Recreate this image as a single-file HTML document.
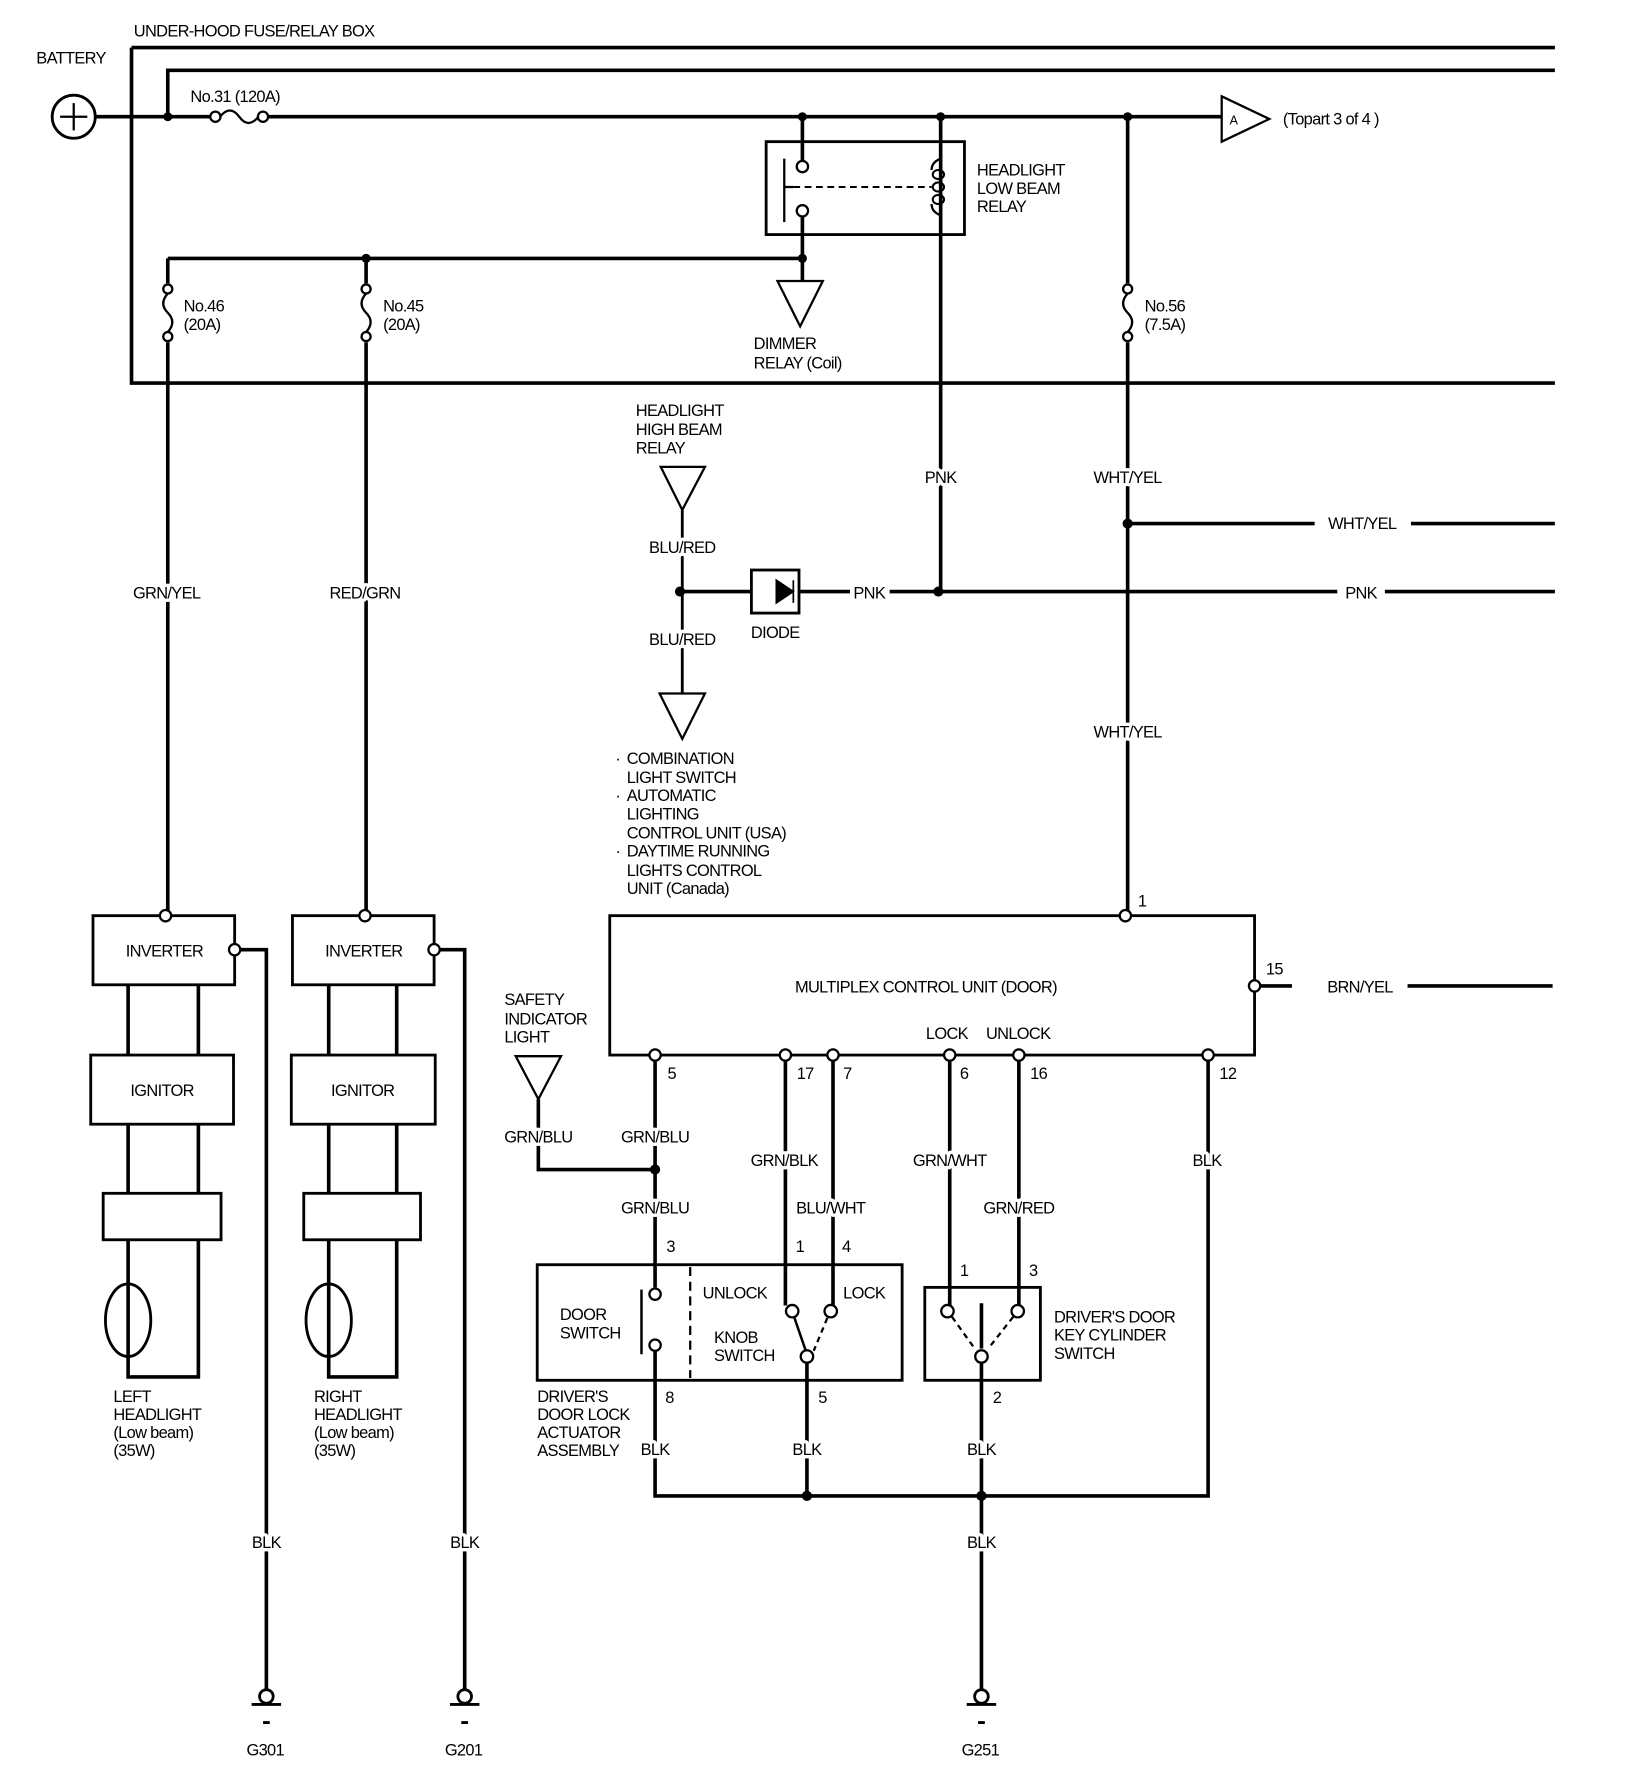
<!DOCTYPE html>
<html><head><meta charset="utf-8"><style>
html,body{margin:0;padding:0;background:#fff;}
svg{display:block;}
text{font-family:"Liberation Sans",sans-serif;font-size:14.5px;fill:#000;letter-spacing:-0.6px;}
.c{text-anchor:middle;}
.w{paint-order:stroke;stroke:#fff;stroke-width:6px;stroke-linejoin:round;}
</style></head><body>
<svg width="1632" height="1786" viewBox="0 0 1440 1576" xmlns="http://www.w3.org/2000/svg">
<g stroke="#000" fill="none" stroke-width="3.2">
<path d="M116 42H1372M116 42V338H1372"/>
<path d="M148 103V62H1372"/>
<circle cx="65" cy="103" r="19" stroke-width="2.5"/>
<path d="M53 103H77M65 91V115" stroke-width="2"/>
<path d="M84 103H186M236 103H1078"/>
<circle cx="190" cy="103" r="4.5" stroke-width="2"/><circle cx="232" cy="103" r="4.5" stroke-width="2"/>
<path d="M194 103Q203 92 211 103T228 103" stroke-width="2"/>
<polygon points="1078,85 1078,125 1120,105" stroke-width="2"/>
<rect x="676" y="125" width="175" height="82" stroke-width="2.5"/>
<path d="M708 103V142M708 191V248"/>
<circle cx="708" cy="147" r="5" stroke-width="2"/><circle cx="708" cy="186" r="5" stroke-width="2"/>
<path d="M692 140V196M692 165H700" stroke-width="2"/>
<path d="M700 165H822" stroke-width="1.8" stroke-dasharray="6,4"/>
<path d="M830 103V522"/>
<path d="M830 140Q822 143 822 150M830 190Q822 187 822 180" stroke-width="2"/>
<ellipse cx="828" cy="154" rx="5" ry="4" stroke-width="1.8"/><ellipse cx="828" cy="165" rx="5" ry="4" stroke-width="1.8"/><ellipse cx="828" cy="176" rx="5" ry="4" stroke-width="1.8"/>
<path d="M148 228H708M148 228V250M148 302V808M323 228V250M323 302V808"/>
<circle cx="148" cy="255" r="4" stroke-width="2"/><circle cx="148" cy="297" r="4" stroke-width="2"/>
<path d="M148 259Q140 268 148 276T148 293" stroke-width="2"/>
<circle cx="323" cy="255" r="4" stroke-width="2"/><circle cx="323" cy="297" r="4" stroke-width="2"/>
<path d="M323 259Q315 268 323 276T323 293" stroke-width="2"/>
<path d="M995 103V250M995 302V803"/>
<circle cx="995" cy="255" r="4" stroke-width="2"/><circle cx="995" cy="297" r="4" stroke-width="2"/>
<path d="M995 259Q987 268 995 276T995 293" stroke-width="2"/>
<polygon points="686,248 726,248 706,288" stroke-width="2"/>
<path d="M995 462H1160M1245 462H1372"/>
<path d="M600 522H663M705 522H750M785 522H1180M1222 522H1372"/>
<rect x="663" y="503" width="42" height="38" stroke-width="2.5"/>
<path d="M700 512V532M700 522L685 512V532Z" fill="#000" stroke-width="1.5"/>
<polygon points="583,412 622,412 602,450" stroke-width="2"/>
<path d="M602 450V612" stroke-width="2.5"/>
<polygon points="582,612 622,612 602,652" stroke-width="2"/>
<rect x="82" y="808" width="125" height="61" stroke-width="2.5"/>
<rect x="80" y="931" width="126" height="61" stroke-width="2.5"/>
<rect x="91" y="1053" width="104" height="41" stroke-width="2.5"/>
<path d="M113 869V931M175 869V931M113 992V1053M175 992V1053M113 1094V1197M175 1094V1215H113V1197"/>
<ellipse cx="113" cy="1165" rx="20" ry="32" stroke-width="2.5"/>
<path d="M212 838H235V1491"/>
<rect x="258" y="808" width="125" height="61" stroke-width="2.5"/>
<rect x="257" y="931" width="127" height="61" stroke-width="2.5"/>
<rect x="268" y="1053" width="103" height="41" stroke-width="2.5"/>
<path d="M290 869V931M350 869V931M290 992V1053M350 992V1053M290 1094V1197M350 1094V1215H290V1197"/>
<ellipse cx="290" cy="1165" rx="20" ry="32" stroke-width="2.5"/>
<path d="M388 838H410V1491"/>
<g stroke-width="2.5">
<circle cx="235" cy="1497" r="6"/><path d="M222 1504H248M232 1520H238"/>
<circle cx="410" cy="1497" r="6"/><path d="M397 1504H423M407 1520H413"/>
<circle cx="866" cy="1497" r="6"/><path d="M853 1504H879M863 1520H869"/>
</g>
<rect x="538" y="808" width="569" height="123" stroke-width="2.5"/>
<path d="M1112 870H1140M1242 870H1370"/>
<polygon points="455,932 495,932 475,970" stroke-width="2"/>
<path d="M475 970V1032H578"/>
<path d="M578 936V1136M578 1192V1320H1066V936"/>
<path d="M693 936V1152M735 936V1152M838 936V1152M899 936V1152"/>
<path d="M712 1202V1320M866 1202V1491"/>
<rect x="474" y="1116" width="322" height="102" stroke-width="2.5"/>
<path d="M609 1118V1216" stroke-width="2" stroke-dasharray="8,5"/>
<path d="M566 1138V1195" stroke-width="2.2"/>
<path d="M701 1163L711 1192" stroke-width="2.2"/>
<path d="M730 1163L718 1192" stroke-width="2" stroke-dasharray="5,4"/>
<rect x="816" y="1136" width="102" height="82" stroke-width="2.5"/>
<path d="M866 1150V1190"/>
<path d="M840 1162L860 1190M894 1162L872 1190" stroke-width="2" stroke-dasharray="5,4"/>
</g>
<g fill="#fff" stroke="#000" stroke-width="2">
<circle cx="146" cy="808" r="5"/><circle cx="322" cy="808" r="5"/>
<circle cx="207" cy="838" r="5"/><circle cx="383" cy="838" r="5"/>
<circle cx="993" cy="808" r="5"/><circle cx="1107" cy="870" r="5"/>
<circle cx="578" cy="931" r="5"/><circle cx="693" cy="931" r="5"/><circle cx="735" cy="931" r="5"/>
<circle cx="838" cy="931" r="5"/><circle cx="899" cy="931" r="5"/><circle cx="1066" cy="931" r="5"/>
<circle cx="578" cy="1142" r="5"/><circle cx="578" cy="1187" r="5"/>
<circle cx="699" cy="1157" r="5.5"/><circle cx="733" cy="1157" r="5.5"/><circle cx="712" cy="1197" r="5.5"/>
<circle cx="836" cy="1157" r="5.5"/><circle cx="898" cy="1157" r="5.5"/><circle cx="866" cy="1197" r="5.5"/>
</g>
<g fill="#000">
<circle cx="148" cy="103" r="4"/><circle cx="708" cy="103" r="4"/><circle cx="830" cy="103" r="4"/><circle cx="995" cy="103" r="4"/>
<circle cx="323" cy="228" r="4"/><circle cx="708" cy="228" r="4"/>
<circle cx="995" cy="462" r="4.5"/><circle cx="600" cy="522" r="4.5"/><circle cx="828" cy="522" r="4.5"/>
<circle cx="578" cy="1032" r="4.5"/><circle cx="712" cy="1320" r="4.5"/><circle cx="866" cy="1320" r="4.5"/>
</g>
<text x="118" y="32">UNDER-HOOD FUSE/RELAY BOX</text>
<text x="32" y="56">BATTERY</text>
<text x="168" y="90">No.31 (120A)</text>
<text x="1085" y="110" style="font-size:11px">A</text>
<text x="1132" y="110">(Topart 3 of 4  )</text>
<text x="862" y="155">HEADLIGHT</text><text x="862" y="171">LOW BEAM</text><text x="862" y="187">RELAY</text>
<text x="162" y="275">No.46</text><text x="162" y="291">(20A)</text>
<text x="338" y="275">No.45</text><text x="338" y="291">(20A)</text>
<text x="1010" y="275">No.56</text><text x="1010" y="291">(7.5A)</text>
<text x="665" y="308">DIMMER</text><text x="665" y="325">RELAY (Coil)</text>
<text x="561" y="367">HEADLIGHT</text><text x="561" y="384">HIGH BEAM</text><text x="561" y="400">RELAY</text>
<text class="c w" x="830" y="426">PNK</text><text class="c w" x="995" y="426">WHT/YEL</text>
<text class="c" x="1202" y="467">WHT/YEL</text>
<text class="c w" x="602" y="488">BLU/RED</text>
<text class="c w" x="147" y="528">GRN/YEL</text><text class="c w" x="322" y="528">RED/GRN</text>
<text class="c" x="767" y="528">PNK</text><text class="c" x="1201" y="528">PNK</text>
<text class="c" x="684" y="563">DIODE</text>
<text class="c w" x="602" y="569">BLU/RED</text>
<text class="c w" x="995" y="651">WHT/YEL</text>
<text x="543" y="674">·</text><text x="553" y="674">COMBINATION</text>
<text x="553" y="691">LIGHT SWITCH</text>
<text x="543" y="707">·</text><text x="553" y="707">AUTOMATIC</text>
<text x="553" y="723">LIGHTING</text>
<text x="553" y="740">CONTROL UNIT (USA)</text>
<text x="543" y="756">·</text><text x="553" y="756">DAYTIME RUNNING</text>
<text x="553" y="773">LIGHTS CONTROL</text>
<text x="553" y="789">UNIT (Canada)</text>
<text x="1004" y="800">1</text>
<text class="c" x="145" y="844">INVERTER</text><text class="c" x="321" y="844">INVERTER</text>
<text class="c" x="143" y="967">IGNITOR</text><text class="c" x="320" y="967">IGNITOR</text>
<text class="c" x="817" y="876">MULTIPLEX CONTROL UNIT (DOOR)</text>
<text x="1117" y="860">15</text>
<text class="c" x="1200" y="876">BRN/YEL</text>
<text x="445" y="887">SAFETY</text><text x="445" y="904">INDICATOR</text><text x="445" y="920">LIGHT</text>
<text x="817" y="917">LOCK</text><text x="870" y="917">UNLOCK</text>
<text x="589" y="952">5</text><text x="703" y="952">17</text><text x="744" y="952">7</text>
<text x="847" y="952">6</text><text x="909" y="952">16</text><text x="1076" y="952">12</text>
<text class="c w" x="475" y="1008">GRN/BLU</text><text class="c w" x="578" y="1008">GRN/BLU</text>
<text class="c w" x="692" y="1029">GRN/BLK</text><text class="c w" x="838" y="1029">GRN/WHT</text><text class="c w" x="1065" y="1029">BLK</text>
<text class="c w" x="578" y="1071">GRN/BLU</text><text class="c w" x="733" y="1071">BLU/WHT</text><text class="c w" x="899" y="1071">GRN/RED</text>
<text x="588" y="1105">3</text><text x="702" y="1105">1</text><text x="743" y="1105">4</text>
<text x="847" y="1126">1</text><text x="908" y="1126">3</text>
<text x="620" y="1146">UNLOCK</text><text x="744" y="1146">LOCK</text>
<text x="494" y="1165">DOOR</text><text x="494" y="1181">SWITCH</text>
<text x="630" y="1185">KNOB</text><text x="630" y="1201">SWITCH</text>
<text x="930" y="1167">DRIVER'S DOOR</text><text x="930" y="1183">KEY CYLINDER</text><text x="930" y="1199">SWITCH</text>
<text x="100" y="1237">LEFT</text><text x="100" y="1253">HEADLIGHT</text><text x="100" y="1269">(Low beam)</text><text x="100" y="1285">(35W)</text>
<text x="277" y="1237">RIGHT</text><text x="277" y="1253">HEADLIGHT</text><text x="277" y="1269">(Low beam)</text><text x="277" y="1285">(35W)</text>
<text x="474" y="1237">DRIVER'S</text><text x="474" y="1253">DOOR LOCK</text><text x="474" y="1269">ACTUATOR</text><text x="474" y="1285">ASSEMBLY</text>
<text x="587" y="1238">8</text><text x="722" y="1238">5</text><text x="876" y="1238">2</text>
<text class="c w" x="578" y="1284">BLK</text><text class="c w" x="712" y="1284">BLK</text><text class="c w" x="866" y="1284">BLK</text>
<text class="c w" x="235" y="1366">BLK</text><text class="c w" x="410" y="1366">BLK</text><text class="c w" x="866" y="1366">BLK</text>
<text class="c" x="234" y="1549">G301</text><text class="c" x="409" y="1549">G201</text><text class="c" x="865" y="1549">G251</text>
</svg>
</body></html>
